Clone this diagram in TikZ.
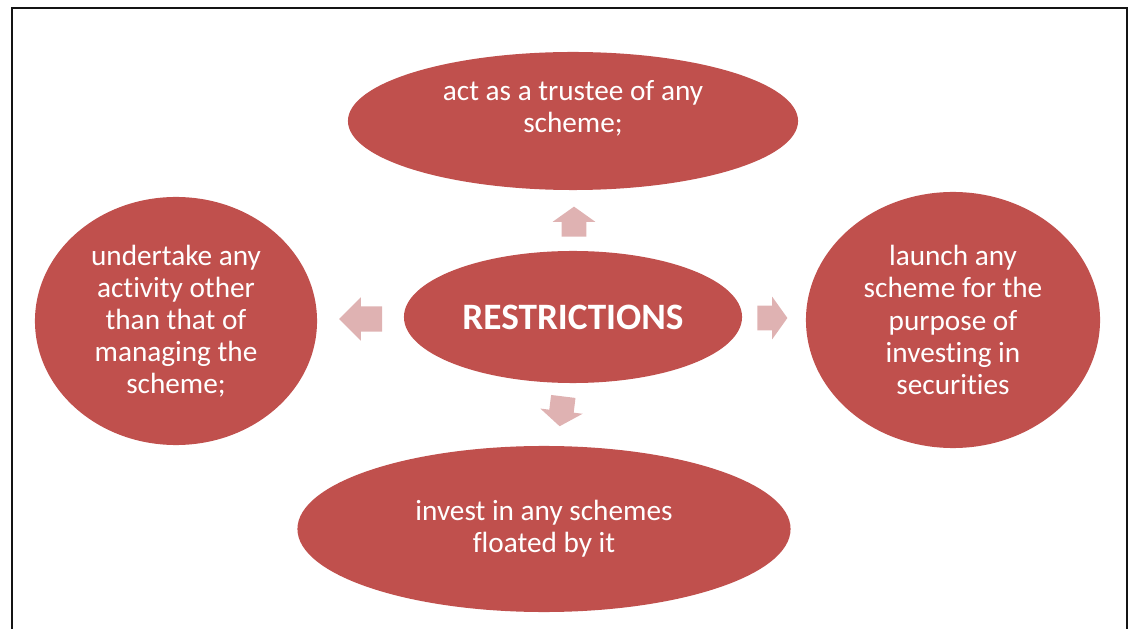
\documentclass[tikz,border=0pt]{standalone}
\usepackage{fontspec}
\setmainfont{Carlito}[Ligatures=NoCommon]
\usetikzlibrary{shapes.geometric,shapes.arrows}
\definecolor{ovalred}{RGB}{192,80,77}
\definecolor{arrowpink}{RGB}{223,178,178}
\definecolor{framegray}{RGB}{20,20,20}

\begin{document}
\begin{tikzpicture}[
  x=0.025cm, y=-0.025cm,
  oval/.style={ellipse, fill=ovalred, inner sep=0pt, text=white, align=center, font=\fontsize{20.8}{22.8}\selectfont},
  hub/.style={oval, font=\fontsize{26.5}{30}\selectfont\bfseries},
  txt/.style={text=white, align=center, inner sep=0pt, font=\fontsize{20.8}{22.8}\selectfont},
  blk/.style={single arrow, fill=arrowpink, inner xsep=0pt, inner ysep=0.3cm, single arrow head extend=0.225cm, minimum height=0.75cm, single arrow tip angle=109}
]
\useasboundingbox (0,0) rectangle (1133,629);
% frame, open at the bottom
\draw[framegray, line width=1.4pt] (12,629) |- (1127,8) -- (1127,629);

\node[hub, minimum width=8.45cm, minimum height=3.3cm] (hub) at (573,317) {RESTRICTIONS};
\node[oval, minimum width=11.25cm, minimum height=3.45cm] (trustee) at (573,121) {};
\node[txt] (trustee-txt) at (573,108) {act as a trustee of any\\scheme;};
\node[oval, minimum width=7.05cm, minimum height=6.2cm] (activity) at (176,321) {undertake any\\activity other\\than that of\\managing the\\scheme;};
\node[oval, minimum width=7.35cm, minimum height=6.4cm] (launch) at (953,320) {launch any\\scheme for the\\purpose of\\investing in\\securities};
\node[oval, minimum width=12.325cm, minimum height=4.15cm] (invest) at (544,529) {invest in any schemes\\floated by it};

% block arrows out of the hub
\node[blk, rotate=90] (to-trustee) at (574,226) {};
\node[blk, rotate=0] (to-launch) at (768,318) {};
\node[blk, rotate=180, minimum height=1.075cm, inner ysep=0.31cm, single arrow tip angle=90] (to-activity) at (367,319) {};
\node[blk, rotate=-97] (to-invest) at (562,407) {};
\end{tikzpicture}
\end{document}
